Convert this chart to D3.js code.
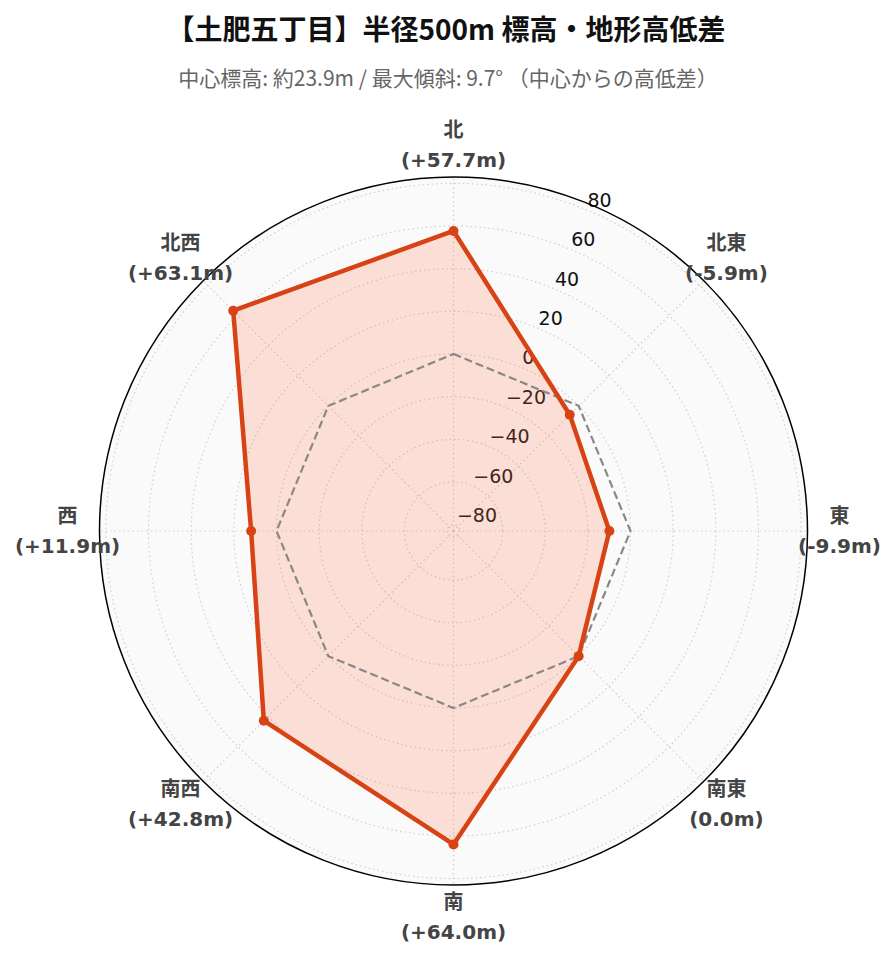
<!DOCTYPE html>
<html>
<head>
<meta charset="utf-8">
<script src="https://cdn.jsdelivr.net/npm/d3@7"></script>
<style>
  body { margin: 0; background: #fff; }
</style>
</head>
<body>
<div id="chartArea"></div>
<script>
// direction labels (clockwise from north)
var directions = ['北', '北東', '東', '南東', '南', '南西', '西', '北西'];
// elevation difference from the centre point (m)
var diffs = [57.7, -5.9, -9.9, 0.0, 64.0, 42.8, 11.9, 63.1];
// reference line (centre elevation = 0)
var reference = [0, 0, 0, 0, 0, 0, 0, 0];
var radialTicks = [-80, -60, -40, -20, 0, 20, 40, 60, 80];

var titleText = '【土肥五丁目】半径500m 標高・地形高低差';
var subtitleText = '中心標高: 約23.9m / 最大傾斜: 9.7° （中心からの高低差）';

var W = 896, H = 962;
var cx = 453.5, cy = 531, R = 354;

var svg = d3.select('#chartArea').append('svg')
    .attr('width', W)
    .attr('height', H);

svg.append('text')
    .attr('x', 446).attr('y', 28)
    .attr('text-anchor', 'middle')
    .attr('dominant-baseline', 'central')
    .style('font-family', '"Noto Sans CJK JP", "Noto Sans", sans-serif')
    .style('font-weight', 'bold')
    .style('font-size', '28px')
    .style('fill', '#111')
    .text(titleText);

svg.append('text')
    .attr('x', 448).attr('y', 77)
    .attr('text-anchor', 'middle')
    .attr('dominant-baseline', 'central')
    .style('font-family', '"Noto Sans CJK JP", "Noto Sans", sans-serif')
    .style('font-size', '21px')
    .style('fill', '#666')
    .text(subtitleText);

var g = svg.append('g')
    .attr('transform', 'translate(' + cx + ',' + cy + ')');

var rScale = d3.scaleLinear()
    .domain([-83, 83])
    .range([0, R]);

var angle = d3.scaleLinear()
    .domain([0, directions.length])
    .range([0, 2 * Math.PI]);

// background
g.append('circle')
    .attr('r', R)
    .attr('fill', '#fafafa');

// circular grid
g.selectAll('.ring')
    .data(radialTicks)
    .enter()
    .append('circle')
    .attr('class', 'ring')
    .attr('r', function (d) { return rScale(d); })
    .attr('fill', 'none')
    .attr('stroke', '#cfcfcf')
    .attr('stroke-width', 1.2)
    .attr('stroke-dasharray', '1.5,3');

// spokes
g.selectAll('.spoke')
    .data(directions)
    .enter()
    .append('line')
    .attr('class', 'spoke')
    .attr('x1', 0).attr('y1', 0)
    .attr('x2', function (d, i) { return R * Math.sin(angle(i)); })
    .attr('y2', function (d, i) { return -R * Math.cos(angle(i)); })
    .attr('stroke', '#cfcfcf')
    .attr('stroke-width', 1.2)
    .attr('stroke-dasharray', '1.5,3');

// radial tick labels at 22.5deg
var labAng = Math.PI / 8;
g.selectAll('.rtick')
    .data(radialTicks)
    .enter()
    .append('text')
    .attr('class', 'rtick')
    .attr('x', function (d) { return rScale(d) * Math.sin(labAng) + 1; })
    .attr('y', function (d) { return -rScale(d) * Math.cos(labAng) - 10; })
    .attr('dominant-baseline', 'central')
    .style('font-family', '"DejaVu Sans", sans-serif')
    .style('font-size', '19px')
    .style('fill', '#111')
    .text(function (d) { return d < 0 ? '\u2212' + Math.abs(d) : d; });

var radial = d3.lineRadial()
    .angle(function (d, i) { return angle(i); })
    .radius(function (d) { return rScale(d); })
    .curve(d3.curveLinearClosed);

// data area
g.append('path')
    .datum(diffs)
    .attr('d', radial)
    .attr('fill', '#ff7043')
    .attr('fill-opacity', 0.2)
    .attr('stroke', 'none');

// reference (0 m) line
g.append('path')
    .datum(reference)
    .attr('d', radial)
    .attr('fill', 'none')
    .attr('stroke', '#888')
    .attr('stroke-width', 2.2)
    .attr('stroke-dasharray', '8,4');

g.append('path')
    .datum(diffs)
    .attr('d', radial)
    .attr('fill', 'none')
    .attr('stroke', '#d84315')
    .attr('stroke-width', 4.5)
    .attr('stroke-linejoin', 'round');

g.selectAll('.dot')
    .data(diffs)
    .enter()
    .append('circle')
    .attr('class', 'dot')
    .attr('cx', function (d, i) { return rScale(d) * Math.sin(angle(i)); })
    .attr('cy', function (d, i) { return -rScale(d) * Math.cos(angle(i)); })
    .attr('r', 5)
    .attr('fill', '#d84315');

// outer frame
g.append('circle')
    .attr('r', R)
    .attr('fill', 'none')
    .attr('stroke', '#000')
    .attr('stroke-width', 1.5);

// direction labels
var labelR = 386;
var lab = g.selectAll('.dir')
    .data(directions)
    .enter()
    .append('text')
    .attr('class', 'dir')
    .attr('text-anchor', 'middle')
    .style('font-family', '"DejaVu Sans", "Noto Sans CJK JP", sans-serif')
    .style('font-weight', 'bold')
    .style('font-size', '20px')
    .style('fill', '#444');

lab.append('tspan')
    .attr('x', function (d, i) { return labelR * Math.sin(angle(i)); })
    .attr('y', function (d, i) { return -labelR * Math.cos(angle(i)) - 15; })
    .attr('dominant-baseline', 'central')
    .text(function (d) { return d; });

lab.append('tspan')
    .attr('x', function (d, i) { return labelR * Math.sin(angle(i)); })
    .attr('y', function (d, i) { return -labelR * Math.cos(angle(i)) + 15; })
    .attr('dominant-baseline', 'central')
    .text(function (d, i) {
        var v = diffs[i];
        return '(' + (v > 0 ? '+' : '') + v.toFixed(1) + 'm)';
    });
</script>
</body>
</html>
